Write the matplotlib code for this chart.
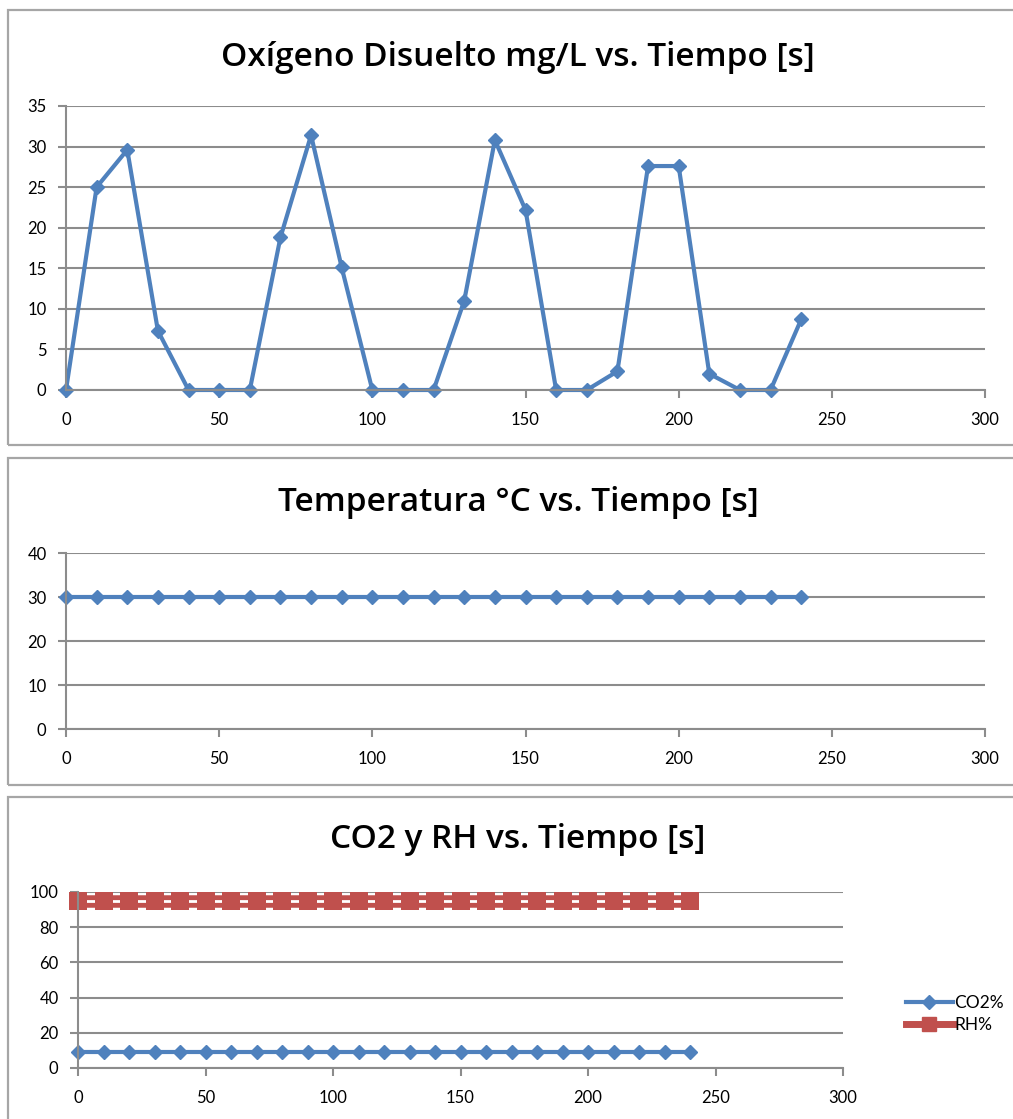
import matplotlib
matplotlib.use("Agg")
from matplotlib import pyplot as plt
from matplotlib.patches import Rectangle

# Data
tiempo = [0, 10, 20, 30, 40, 50, 60, 70, 80, 90, 100, 110, 120,
          130, 140, 150, 160, 170, 180, 190, 200, 210, 220, 230, 240]
oxigeno = [0, 25, 29.6, 7.3, 0, 0, 0, 18.8, 31.4, 15.1, 0, 0, 0,
           11.0, 30.8, 22.2, 0, 0, 2.3, 27.6, 27.6, 2.0, 0, 0, 8.7]
temperatura = [30] * 25
co2 = [9] * 25
rh = [95] * 25

W, H = 1013, 1119
BLUE = "#4F81BD"
RED = "#C0504D"
GRID = "#8c8c8c"
FRAME = "#a6a6a6"

plt.rcParams["font.family"] = ["Lato", "DejaVu Sans"]

fig = plt.figure(figsize=(W / 100, H / 100), dpi=100)


def px_axes(left, right, top, bottom):
    # axes placed from pixel positions of the reference
    return fig.add_axes([left / W, 1 - bottom / H, (right - left) / W, (bottom - top) / H])


def frame(top, bottom):
    fig.add_artist(Rectangle((8 / W, 1 - bottom / H), (1030 - 8) / W, (bottom - top) / H,
                             transform=fig.transFigure, fill=False, ec=FRAME, lw=1.6))


def style(ax, ymax, ystep):
    ax.set_xlim(0, 300)
    ax.set_ylim(0, ymax)
    ax.set_xticks(range(0, 301, 50))
    ax.set_yticks(range(0, ymax + 1, ystep))
    ax.grid(axis="y", color=GRID, lw=1.5)
    ax.set_axisbelow(True)
    for s in ["top", "right"]:
        ax.spines[s].set_visible(False)
    for s in ["left", "bottom"]:
        ax.spines[s].set_color(GRID)
        ax.spines[s].set_linewidth(1.5)
    ax.tick_params(axis="both", colors=GRID, labelcolor="black", labelsize=12,
                   length=6, width=1.5, direction="out")
    ax.tick_params(axis="x", pad=10)
    ax.tick_params(axis="y", pad=8)


def title(text, cy):
    fig.text(518 / W, 1 - cy / H, text, ha="center", va="center",
             fontsize=24, fontweight=600, family=["Open Sans", "DejaVu Sans"])


# Chart 1: oxigeno disuelto
frame(10, 445)
ax1 = px_axes(66, 985, 106, 390)
ax1.plot(tiempo, oxigeno, color=BLUE, lw=3, marker="D", markersize=7,
         markeredgewidth=1, clip_on=False)
style(ax1, 35, 5)
title("Oxígeno Disuelto mg/L vs. Tiempo [s]", 57)

# Chart 2: temperatura
frame(458, 785)
ax2 = px_axes(66, 985, 553, 729)
ax2.plot(tiempo, temperatura, color=BLUE, lw=3, marker="D", markersize=7,
         markeredgewidth=1, clip_on=False)
style(ax2, 40, 10)
title("Temperatura °C vs. Tiempo [s]", 503)

# Chart 3: CO2 y RH
frame(797, 1130)
ax3 = px_axes(78, 843, 892, 1068)
ax3.plot(tiempo, co2, color=BLUE, lw=3, marker="D", markersize=7,
         markeredgewidth=1, clip_on=False, label="CO2%")
ax3.plot(tiempo, rh, color=RED, lw=9, clip_on=False)
ax3.plot(tiempo, rh, color="white", lw=2, clip_on=False)
ax3.plot(tiempo, rh, color=RED, lw=0, marker="s", markersize=13,
         markeredgewidth=0, clip_on=False)
ax3.plot([], [], color=RED, lw=5, marker="s", markersize=10, label="RH%")
style(ax3, 100, 20)
title("CO2 y RH vs. Tiempo [s]", 840)
ax3.legend(loc="center left", bbox_to_anchor=(890 / W, 1 - 1014 / H),
           bbox_transform=fig.transFigure, frameon=False, fontsize=12.5,
           handlelength=2.7, handletextpad=0.1, labelspacing=0.35)

fig.savefig("out.png", dpi=100)
